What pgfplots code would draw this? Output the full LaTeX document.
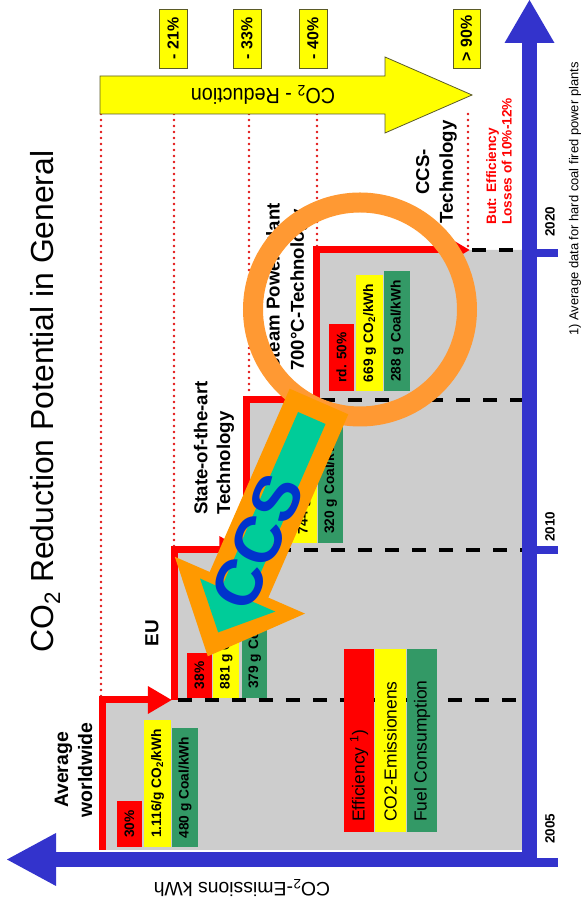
\documentclass[border=0pt]{standalone}
\usepackage{pgfplots}
\pgfplotsset{compat=1.18}
\usepackage{graphicx}
\usepackage{fontspec}
\setmainfont{Liberation Sans}
\usetikzlibrary{arrows.meta}

\definecolor{stepgray}{RGB}{205,205,205}
\definecolor{axisblue}{RGB}{51,51,204}
\definecolor{boxred}{RGB}{255,0,0}
\definecolor{boxyellow}{RGB}{255,255,0}
\definecolor{boxgreen}{RGB}{51,153,102}
\definecolor{dotred}{RGB}{225,20,20}
\definecolor{arroworange}{RGB}{255,153,0}
\definecolor{ringorange}{RGB}{255,153,51}
\definecolor{ccsteal}{RGB}{0,204,153}
\definecolor{ccsblue}{RGB}{0,51,204}
\definecolor{edgeolive}{RGB}{90,90,40}

\newcommand{\fsz}[2]{\fontsize{#1}{#2}\selectfont}
% coloured value box with rotated text: colour, x1, y1, x2, y2, text
\newcommand{\valbox}[6]{%
  \fill[#1] (#2,#3) rectangle (#4,#5);
  \node[rotate=90, inner sep=0pt, font=\bfseries\fsz{13.8}{16}]
    at ({(#2+#4)/2},{(#3+#5)/2}) {#6};}

\begin{document}
\begin{tikzpicture}
\useasboundingbox (0,0) rectangle (583bp,910bp);
% x: specific CO2 emission (distance from the time axis), y: development stage
\begin{axis}[at={(0,0)}, anchor=south west, scale only axis,
  width=583bp, height=910bp,
  xmin=-53.5, xmax=529.5, x dir=reverse,
  ymin=-0.4, ymax=5.666667,
  hide axis, clip=false]
% emission staircase
\addplot[fill=stepgray, draw=none] coordinates {
  (0,0) (427,0) (427,1) (354.5,1) (354.5,2) (283,2) (283,3)
  (212.5,3) (212.5,4) (0,4)} -- cycle;
% stage boundaries
\addplot[black, line width=4bp, dash pattern=on 14bp off 13bp] coordinates {(351.5,1) (0,1)};
\addplot[black, line width=4bp, dash pattern=on 14bp off 13bp] coordinates {(279.5,2) (0,2)};
\addplot[black, line width=4bp, dash pattern=on 14bp off 13bp] coordinates {(208.5,3) (0,3)};
\addplot[black, line width=4bp, dash pattern=on 14bp off 13bp] coordinates {(57.5,4) (0,4)};
% red step line
\addplot[boxred, line width=7bp, line join=miter, -{Triangle[length=24bp,width=26bp]}]
  coordinates {(427,0) (427,1) (357.5,1)};
\addplot[boxred, line width=7bp, line join=miter, -{Triangle[length=24bp,width=26bp]}]
  coordinates {(354.5,1) (354.5,2) (286,2)};
\addplot[boxred, line width=7bp, line join=miter, -{Triangle[length=24bp,width=26bp]}]
  coordinates {(283,2) (283,3) (216,3)};
\addplot[boxred, line width=7bp, line join=miter, -{Triangle[length=24bp,width=26bp]}]
  coordinates {(212.5,3) (212.5,4) (59.5,4)};
\end{axis}

\begin{scope}[shift={(0pt,910bp)}, x=1bp, y=-1bp]
% value boxes of each stage
\valbox{boxred}{117}{801}{142}{847}{30\%}
\valbox{boxyellow}{144}{720}{171}{847}{1.116/g CO\textsubscript{2}/kWh}
\valbox{boxgreen}{172}{728}{198}{847}{480 g Coal/kWh}
\valbox{boxred}{187}{653}{212}{698}{38\%}
\valbox{boxyellow}{213}{582}{239}{698}{881 g CO\textsubscript{2}/kWh}
\valbox{boxgreen}{242}{578}{267}{698}{379 g Coal/kWh}
\valbox{boxred}{264}{498}{289}{543}{45\%}
\valbox{boxyellow}{291}{427}{317}{543}{744 g CO\textsubscript{2}/kWh}
\valbox{boxgreen}{318}{423}{343}{543}{320 g Coal/kWh}
\valbox{boxred}{329}{324}{354}{391}{rd. 50\%}
\valbox{boxyellow}{356}{275}{383}{391}{669 g CO\textsubscript{2}/kWh}
\valbox{boxgreen}{384}{271}{410}{391}{288 g Coal/kWh}

% legend
\fill[boxred] (344,649) rectangle (374,832);
\fill[boxyellow] (375,649) rectangle (406,832);
\fill[boxgreen] (407,649) rectangle (437,832);
\node[rotate=90, anchor=west, inner sep=0pt, font=\fsz{17.5}{20}] at (359,822) {Efficiency \textsuperscript{1})};
\node[rotate=90, anchor=west, inner sep=0pt, font=\fsz{17.5}{20}] at (390.5,822) {CO2-Emissionens};
\node[rotate=90, anchor=west, inner sep=0pt, font=\fsz{17.5}{20}] at (422,822) {Fuel Consumption};

% axes
\fill[axisblue] (55,852) rectangle (537,867);
\fill[axisblue] (522,867) rectangle (537,42);
\fill[axisblue] (56,833) -- (7,859.5) -- (56,886) -- cycle;
\fill[axisblue] (504.5,43) -- (529.5,0) -- (554.5,43) -- cycle;
\fill[axisblue] (537,858) rectangle (558,867);
\fill[axisblue] (537,546) rectangle (558,554);
\fill[axisblue] (537,249) rectangle (558,257);
\node[rotate=90, font=\bfseries\fsz{13.5}{16}] at (550,829) {2005};
\node[rotate=90, font=\bfseries\fsz{13.5}{16}] at (550,527) {2010};
\node[rotate=90, font=\bfseries\fsz{13.5}{16}] at (550,222) {2020};
\node[rotate=180, font=\fsz{19.5}{22}] at (242,888) {CO\textsubscript{2}-Emissions kWh};

% reduction guide lines
\foreach \xx/\yy in {101/697, 174/547, 249/395, 317/247, 468/247}
  \draw[dotred, line width=2.6bp, line cap=round, dash pattern=on 0bp off 6bp] (\xx,114) -- (\xx,\yy);

% reduction arrow
\filldraw[fill=boxyellow, draw=edgeolive, line width=0.8bp]
  (100,76) -- (385,76) -- (385,57) -- (472,95) -- (385,133) -- (385,114) -- (100,114) -- cycle;
\node[rotate=180, font=\fsz{22}{26}] at (263,95) {\scalebox{0.9}[1]{CO\textsubscript{2} - Reduction}};

% reduction percentages
\foreach \xa/\xb/\txt in {159/187/{- 21\%}, 233/261/{- 33\%}, 299/327/{- 40\%}, 453/480/{> 90\%}}{
  \filldraw[fill=boxyellow, draw=edgeolive, line width=0.8bp] (\xa,9) rectangle (\xb,68);
  \node[rotate=90, font=\bfseries\fsz{16}{18}] at ({(\xa+\xb)/2},38.5) {\txt};}

% title
\node[rotate=90, font=\fsz{32}{36}] at (45,401.5) {CO\textsubscript{2} Reduction Potential in General};

% stage labels
\node[rotate=90, align=center, inner sep=0pt, font=\bfseries\fsz{19.5}{24}] at (73.5,770) {Average\\worldwide};
\node[rotate=90, inner sep=0pt, font=\bfseries\fsz{19}{23}] at (152,633) {EU};
\node[rotate=90, align=left, anchor=west, inner sep=0pt, font=\bfseries\fsz{18.7}{23}] at (214,515) {State-of-the-art\\Technology};
\node[rotate=90, align=left, anchor=west, inner sep=0pt, font=\bfseries\fsz{18.7}{24.5}] at (287,371) {Steam Power Plant\\700°C-Technology};
\node[rotate=90, align=center, inner sep=0pt, font=\bfseries\fsz{18.7}{24}] at (436.5,172) {CCS-\\Technology};
\node[rotate=90, align=left, anchor=west, inner sep=0pt, text=boxred, font=\bfseries\fsz{13.7}{15.5}] at (499,225) {But: Efficiency\\Losses of 10\%-12\%};

% footnote
\node[rotate=90, font=\fsz{13}{15}] at (575,199) {1) Average data for hard coal fired power plants};

% magnifier ring
\draw[ringorange, line width=20bp] (360,309.5) circle[radius=107bp];

% CCS arrow
\fill[arroworange] (289.7,388.7) -- (209.7,572.0) -- (174.8,556.8) -- (207.8,656.3)
  -- (305,613.6) -- (268.3,597.6) -- (348.3,414.3) -- cycle;
\fill[ccsteal] (298.05,412.0) -- (221.25,588.0) -- (200,578.5) -- (218.2,632.4)
  -- (275.3,611.6) -- (248.75,600) -- (325.55,424) -- cycle;
\node[rotate=66.4, text=ccsblue, font=\bfseries\fsz{66}{72}] at (257.5,542) {CCS};
\end{scope}
\end{tikzpicture}
\end{document}
